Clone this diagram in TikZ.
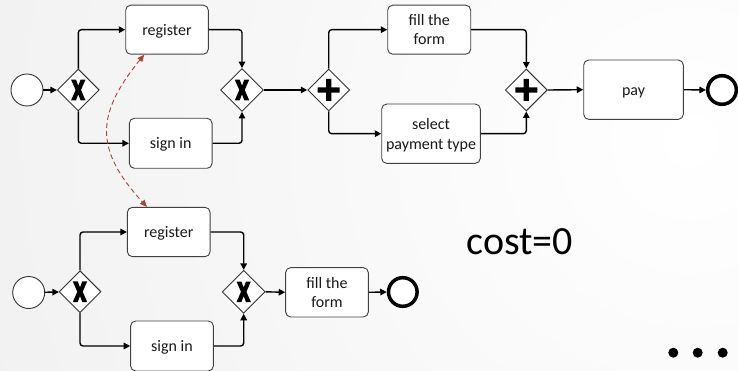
\documentclass[tikz,border=0pt]{standalone}
\usepackage{fontspec}
\setmainfont{Carlito}
\usetikzlibrary{shapes.geometric,arrows.meta,calc}
\definecolor{dred}{RGB}{168,68,58}
\begin{document}
\begin{tikzpicture}[x=1pt,y=-1pt,
  task/.style={draw=black!75, line width=0.9pt, fill=white, rounded corners=5pt,
    inner sep=0pt, align=center, font=\fontsize{16}{19.5}\selectfont, text=black!90},
  one/.style={text height=12.5pt, text depth=1.5pt},
  gw/.style={diamond, draw=black!80, fill=white, line width=0.9pt,
    minimum width=42pt, minimum height=42pt, inner sep=0pt},
  xgw/.style={gw, path picture={\fill[black, shift={(path picture bounding box.center)}]
      (-7.2,-10.3) -- (-2.3,-10.3) -- (0,-4.3) -- (2.3,-10.3) -- (7.2,-10.3) -- (2.7,0) -- (7.2,10.3)
      -- (2.3,10.3) -- (0,4.3) -- (-2.3,10.3) -- (-7.2,10.3) -- (-2.7,0) -- cycle;}},
  pgw/.style={gw, path picture={\fill[black, shift={(path picture bounding box.center)}]
      (-11,-2.6) rectangle (11,2.6) (-2.6,-11) rectangle (2.6,11);}},
  startev/.style={circle, draw=black!80, fill=white, line width=0.9pt, minimum size=32pt, inner sep=0pt},
  endev/.style={circle, draw=black, fill=white, line width=3.5pt, minimum size=28.6pt, inner sep=0pt},
  conn/.style={line width=1.4pt, black, rounded corners=3pt, -{Triangle[length=6.5pt,width=6.5pt]}},
  link/.style={line width=0.9pt, dred, dash pattern=on 5pt off 3pt,
    {Triangle[length=7pt,width=6pt]}-{Triangle[length=7pt,width=6pt]}},
  dot/.style={circle, fill=black, minimum size=10pt, inner sep=0pt}
]
\useasboundingbox (0,0) rectangle (738,371);
\begin{scope}
  \clip (0,0) rectangle (738,371);
  \shade[inner color=white, outer color=black!11] (690,140) circle (1500);
\end{scope}

% top process
\node[startev] (s1) at (27,90) {};
\node[xgw] (g1) at (78.3,90) {};
\node[task, one, minimum width=82.6pt, minimum height=49pt] (reg1) at (167,29.7) {register};
\node[task, one, minimum width=82.7pt, minimum height=50pt] (sig1) at (170.7,143.3) {sign in};
\node[xgw, minimum width=43pt, minimum height=43pt] (g2) at (242,90) {};
\node[pgw] (g3) at (328.7,90) {};
\node[task, minimum width=83pt, minimum height=49pt] (fill1) at (429.2,29.7) {fill the\\form};
\node[task, text depth=0pt, minimum width=98.6pt, minimum height=59.3pt] (sel1) at (431,133.7) {select\\payment type};
\node[pgw] (g4) at (526.3,90) {};
\node[task, one, minimum width=99.6pt, minimum height=59.3pt] (pay) at (633.5,89.7) {pay};
\node[endev] (e1) at (722,90) {};

\draw[conn] (s1) -- (g1);
\draw[conn] (g1.north) |- (reg1.west);
\draw[conn] (g1.south) |- (sig1.west);
\draw[conn] (reg1.east) -| (g2.north);
\draw[conn] (sig1.east) -| (g2.south);
\draw[conn] (g2.east) -- (g3.west);
\draw[conn] (g3.north) |- (fill1.west);
\draw[conn] (g3.south) |- (sel1.west);
\draw[conn] (fill1.east) -| (g4.north);
\draw[conn] (sel1.east) -| (g4.south);
\draw[conn] (g4.east) -- (pay.west);
\draw[conn] (pay.east) -- (e1.west);

% bottom process
\node[startev] (s2) at (28.7,292.5) {};
\node[xgw] (g5) at (80,291.7) {};
\node[task, one, minimum width=82.7pt, minimum height=49.3pt] (reg2) at (168.7,232) {register};
\node[task, one, minimum width=82.7pt, minimum height=50pt] (sig2) at (172,346) {sign in};
\node[xgw, minimum width=43pt, minimum height=43pt] (g6) at (243.7,291.8) {};
\node[task, minimum width=82.7pt, minimum height=49.3pt] (fill2) at (327,292.3) {fill the\\form};
\node[endev] (e2) at (402.8,292) {};

\draw[conn] (s2) -- (g5);
\draw[conn] (g5.north) |- (reg2.west);
\draw[conn] (g5.south) |- (sig2.west);
\draw[conn] (reg2.east) -| (g6.north);
\draw[conn] (sig2.east) -| (g6.south);
\draw[conn] (g6.east) -- (fill2.west);
\draw[conn] (fill2.east) -- (e2.west);

% mapping link
\coordinate (la) at ([xshift=19pt]reg1.south west);
\coordinate (lb) at ([xshift=20pt]reg2.north west);
\draw[link] (la) .. controls (95,115) and (95,150) .. (lb);

% cost label and dots
\node[anchor=base west, inner sep=0pt, font=\fontsize{40}{48}\selectfont, text=black] (cost) at (466.5,254.3) {cost=0};
\node[dot] (d1) at (673.3,352.7) {};
\node[dot] (d2) at (697.7,352.7) {};
\node[dot] (d3) at (722.7,352.7) {};
\end{tikzpicture}
\end{document}
